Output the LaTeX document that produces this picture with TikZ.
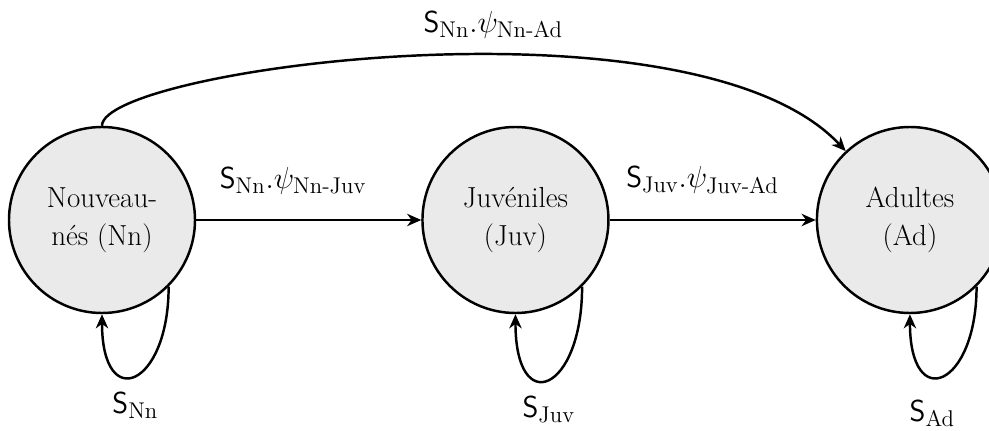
\documentclass[tikz,border=0pt]{standalone}
\usepackage{amsmath}
\usetikzlibrary{positioning,arrows.meta}

\definecolor{stadefill}{HTML}{EAEAEA}
\newcommand{\surv}[1]{\mathsf{S}_{\text{#1}}}
\newcommand{\trans}[1]{\psi_{\text{#1}}}

\tikzset{
	stade/.style={circle, draw, line width=1.4pt, fill=stadefill, minimum size=3.72cm, inner sep=0pt, align=center, font=\fontsize{16.5}{21.5}\selectfont},
	flux/.style={line width=1.4pt, -{Stealth[length=8pt,width=7pt,inset=2.5pt]}},
	taux/.style={font=\fontsize{18.5}{20}\selectfont}
}

\begin{document}
\begin{tikzpicture}
	\useasboundingbox (0,0) rectangle (19.78,8.6);

	% stades
	\node[stade] (nn) at (2.04,4.2) {Nouveau-\\nés (Nn)};
	\node[stade, right=4.5cm of nn] (juv) {Juvéniles\\(Juv)};
	\node[stade, right=4.12cm of juv] (ad) {Adultes\\(Ad)};

	% transitions
	\draw[flux] (nn) -- node[taux, above=0.38cm, pos=0.43] (tnnjuv) {$\surv{Nn}.\trans{Nn-Juv}$} (juv);
	\draw[flux] (juv) -- node[taux, above=0.38cm, pos=0.45] (tjuvad) {$\surv{Juv}.\trans{Juv-Ad}$} (ad);
	\draw[flux] (nn.north) .. controls +(0,1.14) and +(-3.02,3.24) .. node[taux, above=0.2cm, pos=0.575] (tnnad) {$\surv{Nn}.\trans{Nn-Ad}$} (ad.133);

	% survie
	\draw[flux] (nn.-45) .. controls +(0,-2) and +(0,-2) .. node[taux, below=0.2cm, midway] (snn) {$\surv{Nn}$} (nn.south);
	\draw[flux] (juv.-45) .. controls +(0,-2.1) and +(0,-2.1) .. node[taux, below=0.2cm, midway] (sjuv) {$\surv{Juv}$} (juv.south);
	\draw[flux] (ad.-45) .. controls +(0,-2) and +(0,-2) .. node[taux, below=0.35cm, xshift=-0.22cm, midway] (sad) {$\surv{Ad}$} (ad.south);
\end{tikzpicture}
\end{document}
